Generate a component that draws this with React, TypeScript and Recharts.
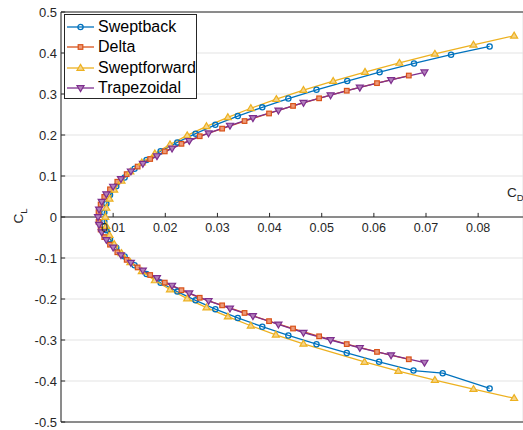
import { ComposedChart, Line, XAxis, YAxis, CartesianGrid, ReferenceLine } from 'recharts';

const BLUE = '#0072BD';
const ORANGE = '#D95319';
const YELLOW = '#EDB120';
const PURPLE = '#7E2F8E';
const AXIS = '#262626';

const xGrid = [0, 0.01, 0.02, 0.03, 0.04, 0.05, 0.06, 0.07, 0.08];
const xLabels = [0.01, 0.02, 0.03, 0.04, 0.05, 0.06, 0.07, 0.08];
const yTicks = [-0.5, -0.4, -0.3, -0.2, -0.1, 0, 0.1, 0.2, 0.3, 0.4, 0.5];

// Sweptback
const sweptbackCL = [
  -0.418, -0.381, -0.3745, -0.3531, -0.3317, -0.3103, -0.2889, -0.2675, -0.2461, -0.2247,
  -0.2033, -0.1819, -0.1605, -0.1391, -0.1177, -0.0963, -0.0749, -0.0535, -0.0321, -0.0107,
  0.0107, 0.0321, 0.0535, 0.0749, 0.0963, 0.1177, 0.1391, 0.1605, 0.1819, 0.2033,
  0.2247, 0.2461, 0.2675, 0.2889, 0.3103, 0.3317, 0.3531, 0.3745, 0.3959, 0.416,
];
const sweptbackCD = [
  0.0822, 0.0732, 0.0676, 0.061, 0.0548, 0.049, 0.0436, 0.0386, 0.0339, 0.0296,
  0.0258, 0.0223, 0.0191, 0.0164, 0.0141, 0.0122, 0.0106, 0.0094, 0.0087, 0.0083,
  0.0083, 0.0087, 0.0094, 0.0106, 0.0122, 0.0141, 0.0164, 0.0191, 0.0223, 0.0258,
  0.0296, 0.0339, 0.0386, 0.0436, 0.049, 0.0549, 0.0611, 0.0677, 0.0748, 0.0822,
];

// Delta
const deltaCL = [
  -0.347, -0.329, -0.31, -0.291, -0.272, -0.254, -0.234, -0.2155, -0.197, -0.1785,
  -0.16, -0.1415, -0.123, -0.1045, -0.086, -0.0675, -0.049, -0.0305, -0.012,
  0.012, 0.0305, 0.049, 0.0675, 0.086, 0.1045, 0.123, 0.1415, 0.16, 0.1785,
  0.197, 0.2155, 0.234, 0.2525, 0.271, 0.2895, 0.308, 0.3265, 0.345,
];
const deltaCD = [
  0.0667, 0.0606, 0.0548, 0.0495, 0.0445, 0.0399, 0.0352, 0.0309, 0.0266, 0.0231,
  0.0199, 0.0171, 0.0147, 0.0126, 0.0108, 0.0094, 0.0083, 0.0076, 0.0072,
  0.0072, 0.0076, 0.0083, 0.0094, 0.0108, 0.0126, 0.0147, 0.0171, 0.0199, 0.0231,
  0.0266, 0.0309, 0.0352, 0.0399, 0.0445, 0.0495, 0.0548, 0.0606, 0.0667,
];

// Sweptforward
const sweptforwardCL = [
  -0.442, -0.4199, -0.3978, -0.3757, -0.3536, -0.3094, -0.2873, -0.2652, -0.2431, -0.221,
  -0.1989, -0.1768, -0.1547, -0.1326, -0.1105, -0.0884, -0.0663, -0.0442, -0.0221,
  0,
  0.0221, 0.0442, 0.0663, 0.0884, 0.1105, 0.1326, 0.1547, 0.1768, 0.1989, 0.221,
  0.2431, 0.2652, 0.2873, 0.3094, 0.3315, 0.3536, 0.3757, 0.3978, 0.4199, 0.442,
];
const sweptforwardCD = [
  0.0869, 0.0791, 0.0717, 0.0647, 0.0582, 0.0465, 0.0412, 0.0364, 0.032, 0.0279,
  0.0242, 0.0209, 0.018, 0.0155, 0.0133, 0.0116, 0.0102, 0.0093, 0.0087,
  0.0085,
  0.0087, 0.0093, 0.0102, 0.0116, 0.0133, 0.0155, 0.018, 0.0209, 0.0242, 0.0279,
  0.032, 0.0364, 0.0413, 0.0465, 0.0522, 0.0583, 0.0649, 0.0717, 0.0791, 0.0869,
];

// Trapezoidal
const trapezoidalCL = [
  -0.355, -0.337, -0.319, -0.3, -0.282, -0.262, -0.2415, -0.223, -0.2044, -0.1858,
  -0.1672, -0.1486, -0.1301, -0.1115, -0.0929, -0.0743, -0.0557, -0.0372, -0.0186,
  0,
  0.0186, 0.0372, 0.0557, 0.0743, 0.0929, 0.1115, 0.1301, 0.1486, 0.1672, 0.1858,
  0.2044, 0.223, 0.2415, 0.2601, 0.2787, 0.2973, 0.3159, 0.3344, 0.353,
];
const trapezoidalCD = [
  0.0697, 0.0633, 0.0573, 0.0517, 0.0465, 0.0417, 0.0368, 0.0324, 0.0283, 0.0246,
  0.0213, 0.0184, 0.0157, 0.0134, 0.0115, 0.01, 0.0087, 0.0078, 0.0073,
  0.0071,
  0.0073, 0.0078, 0.0087, 0.01, 0.0115, 0.0134, 0.0157, 0.0184, 0.0213, 0.0246,
  0.0283, 0.0324, 0.0368, 0.0417, 0.0465, 0.0517, 0.0573, 0.0633, 0.0697,
];

const toPoints = (cd: number[], cl: number[]) => cd.map((x, i) => ({ cd: x, cl: cl[i] }));

const sweptback = toPoints(sweptbackCD, sweptbackCL);
const delta = toPoints(deltaCD, deltaCL);
const sweptforward = toPoints(sweptforwardCD, sweptforwardCL);
const trapezoidal = toPoints(trapezoidalCD, trapezoidalCL);

const circleMark = (cx: number, cy: number, k?: any) => (
  <circle key={k} cx={cx} cy={cy} r={2.6} fill="none" stroke={BLUE} strokeWidth={1.3} />
);
const squareMark = (cx: number, cy: number, k?: any) => (
  <rect key={k} x={cx - 2.3} y={cy - 2.3} width={4.6} height={4.6} fill="#ec9a7a" stroke={ORANGE} strokeWidth={1.2} />
);
const triUpMark = (cx: number, cy: number, k?: any) => (
  <path key={k} d={`M${cx},${cy - 3.6}L${cx + 3.5},${cy + 2.3}L${cx - 3.5},${cy + 2.3}Z`} fill="#f5d48a" stroke={YELLOW} strokeWidth={1.2} />
);
const triDownMark = (cx: number, cy: number, k?: any) => (
  <path key={k} d={`M${cx},${cy + 3.6}L${cx + 3.5},${cy - 2.3}L${cx - 3.5},${cy - 2.3}Z`} fill="#b27fbb" stroke={PURPLE} strokeWidth={1.2} />
);

const legendItems = [
  { name: 'Sweptback', color: BLUE, mark: circleMark },
  { name: 'Delta', color: ORANGE, mark: squareMark },
  { name: 'Sweptforward', color: YELLOW, mark: triUpMark },
  { name: 'Trapezoidal', color: PURPLE, mark: triDownMark },
];

const font = '"Liberation Sans", Arial, Helvetica, sans-serif';

export default function App() {
  return (
    <div style={{ position: 'absolute', left: 0, top: 0, width: 523, height: 430, background: '#fff', fontFamily: font, overflow: 'hidden' }}>
      <ComposedChart width={523} height={430} margin={{ top: 12, right: 0, bottom: 8, left: 0 }} style={{ fontFamily: font }}>
        <CartesianGrid stroke="#e3e3e3" strokeWidth={1} />
        <XAxis
          type="number"
          dataKey="cd"
          domain={[0, 0.0886]}
          ticks={xGrid}
          allowDataOverflow
          height={0}
          tick={false}
          axisLine={false}
          tickLine={false}
        />
        <YAxis
          type="number"
          dataKey="cl"
          domain={[-0.5, 0.5]}
          ticks={yTicks}
          width={61}
          tickSize={0}
          tickMargin={4}
          axisLine={{ stroke: AXIS }}
          tickLine={false}
          tick={{ fill: AXIS, fontSize: 13 }}
          tickFormatter={(v: number) => (v === 0 ? '0' : v.toFixed(1))}
        />
        <ReferenceLine y={0.5} stroke={AXIS} />
        <ReferenceLine y={-0.5} stroke={AXIS} />
        <ReferenceLine y={0} stroke={AXIS} />
        {yTicks.map((v) => (
          <ReferenceLine key={'yt' + v} segment={[{ x: 0, y: v }, { x: 0.0008, y: v }]} stroke={AXIS} />
        ))}
        {xLabels.map((v) => (
          <ReferenceLine
            key={'xt' + v}
            segment={[{ x: v, y: 0 }, { x: v, y: 0.01 }]}
            stroke={AXIS}
            label={{ value: v.toFixed(2), position: 'bottom', offset: 6, fill: AXIS, fontSize: 12.5 }}
          />
        ))}
        <Line data={sweptback} dataKey="cl" stroke={BLUE} strokeWidth={1.3} isAnimationActive={false}
          dot={(p: any) => circleMark(p.cx, p.cy, p.index)} activeDot={false} />
        <Line data={delta} dataKey="cl" stroke={ORANGE} strokeWidth={1.3} isAnimationActive={false}
          dot={(p: any) => squareMark(p.cx, p.cy, p.index)} activeDot={false} />
        <Line data={sweptforward} dataKey="cl" stroke={YELLOW} strokeWidth={1.3} isAnimationActive={false}
          dot={(p: any) => triUpMark(p.cx, p.cy, p.index)} activeDot={false} />
        <Line data={trapezoidal} dataKey="cl" stroke={PURPLE} strokeWidth={1.3} isAnimationActive={false}
          dot={(p: any) => triDownMark(p.cx, p.cy, p.index)} activeDot={false} />
      </ComposedChart>

      <div style={{ position: 'absolute', left: 64, top: 14, width: 133, height: 85, boxSizing: 'border-box', border: `1px solid ${AXIS}`, background: '#fff', paddingTop: 2 }}>
        {legendItems.map((it) => (
          <div key={it.name} style={{ height: 20.3, display: 'flex', alignItems: 'center' }}>
            <svg width={29} height={12} style={{ marginLeft: 2, flex: 'none' }}>
              <line x1={0} y1={6} x2={27} y2={6} stroke={it.color} strokeWidth={1.3} />
              {it.mark(13.5, 6)}
            </svg>
            <span style={{ fontSize: 16, color: '#000', marginLeft: 2, lineHeight: '16px' }}>{it.name}</span>
          </div>
        ))}
      </div>

      <div style={{ position: 'absolute', left: 4, top: 208, width: 30, height: 16, transform: 'rotate(-90deg)', fontSize: 13.5, color: AXIS, textAlign: 'center', lineHeight: '16px' }}>
        C<sub style={{ fontSize: 9.5 }}>L</sub>
      </div>
      <div style={{ position: 'absolute', left: 507, top: 185, fontSize: 13.5, color: AXIS, lineHeight: '16px', whiteSpace: 'nowrap' }}>
        C<sub style={{ fontSize: 9.5 }}>D</sub>
      </div>
    </div>
  );
}
